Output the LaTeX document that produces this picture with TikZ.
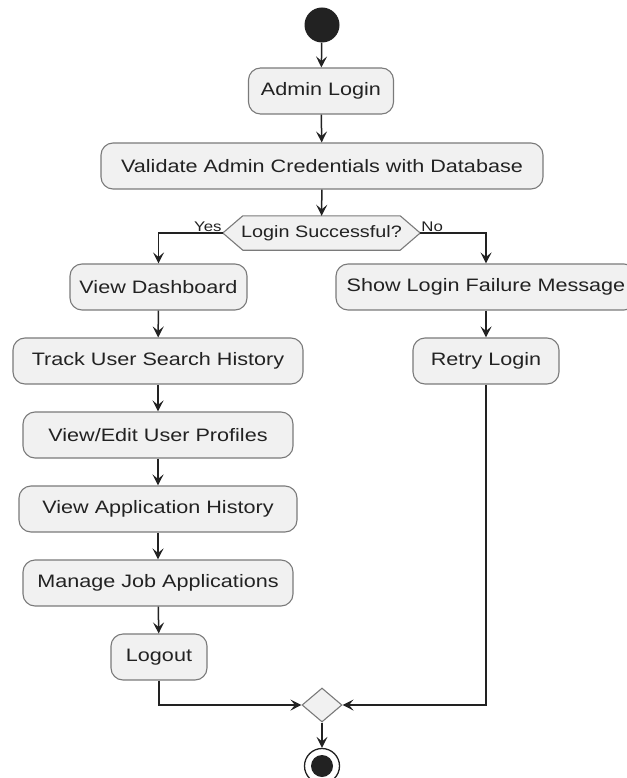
\documentclass[tikz,border=0pt]{standalone}
\usepackage{fontspec}
\setmainfont{Liberation Sans}[FakeStretch=1.2]
\usetikzlibrary{arrows.meta,shapes.geometric,backgrounds}
\definecolor{boxfill}{HTML}{F1F1F1}
\definecolor{boxline}{HTML}{7A7A7A}
\definecolor{ink}{HTML}{222222}
\tikzset{
  act/.style={draw=boxline, fill=boxfill, rounded corners=12pt, line width=1.1pt,
    minimum height=46pt, inner sep=0pt, text=ink, font=\fontsize{18}{20}\selectfont},
  flow/.style={draw=ink, line width=1.5pt, -{Stealth[length=11pt,width=11pt,inset=4.5pt]}},
  guard/.style={text=ink, inner sep=1pt, font=\fontsize{14}{16}\selectfont},
}
\begin{document}
\begin{tikzpicture}[x=1pt,y=-1pt]
\useasboundingbox (0,0) rectangle (626,778);

% start and login
\node[circle, fill=ink, minimum size=35pt, inner sep=0pt] (start) at (322,25) {};
\node[act, minimum width=145pt] (login) at (321,91) {Admin Login};
\node[act, minimum width=442pt] (validate) at (322,166) {Validate Admin Credentials with Database};

% decision
\node[minimum width=197pt, minimum height=34pt, inner sep=0pt, text=ink,
      font=\fontsize{16.5}{18}\selectfont] (check) at (321.5,233) {Login Successful?};
\begin{scope}[on background layer]
  \draw[boxline, fill=boxfill, line width=1.1pt]
    (check.west) -- ([xshift=20pt]check.north west) -- ([xshift=-20pt]check.north east)
    -- (check.east) -- ([xshift=-20pt]check.south east) -- ([xshift=20pt]check.south west) -- cycle;
\end{scope}
\node[guard, anchor=south east] (yes) at (check.west) {Yes};
\node[guard, anchor=south west] (no) at (check.east) {No};

% success branch
\node[act, minimum width=177pt] (dash) at (158.5,287) {View Dashboard};
\node[act, minimum width=290pt] (track) at (158,361) {Track User Search History};
\node[act, minimum width=270pt] (profiles) at (158,435) {View/Edit User Profiles};
\node[act, minimum width=278pt] (apphist) at (158,509) {View Application History};
\node[act, minimum width=270pt] (jobs) at (158,583) {Manage Job Applications};
\node[act, minimum width=96pt] (logout) at (159,657) {Logout};

% failure branch
\node[act, minimum width=300pt] (fail) at (486,287) {Show Login Failure Message};
\node[act, minimum width=146pt] (retry) at (486,361) {Retry Login};

% merge and end
\node[diamond, draw=boxline, fill=boxfill, line width=1.1pt, minimum width=40pt,
      minimum height=34pt, inner sep=0pt] (merge) at (322,705) {};
\node[circle, draw=ink, fill=white, line width=1.3pt, minimum size=35pt, inner sep=0pt] (stop) at (322,766) {};
\node[circle, fill=ink, minimum size=22pt, inner sep=0pt] (stopdot) at (stop.center) {};

% connectors
\draw[flow] (start) -- (login);
\draw[flow] (login) -- (validate);
\draw[flow] (validate) -- (check);
\draw[flow] (check.west) -| (dash.north);
\draw[flow] (check.east) -| (fail.north);
\draw[flow] (dash) -- (track);
\draw[flow] (track) -- (profiles);
\draw[flow] (profiles) -- (apphist);
\draw[flow] (apphist) -- (jobs);
\draw[flow] (jobs) -- (logout);
\draw[flow] (fail) -- (retry);
\draw[flow] (logout.south) |- (merge.west);
\draw[flow] (retry.south) |- (merge.east);
\draw[flow] (merge) -- (stop);
\end{tikzpicture}
\end{document}
